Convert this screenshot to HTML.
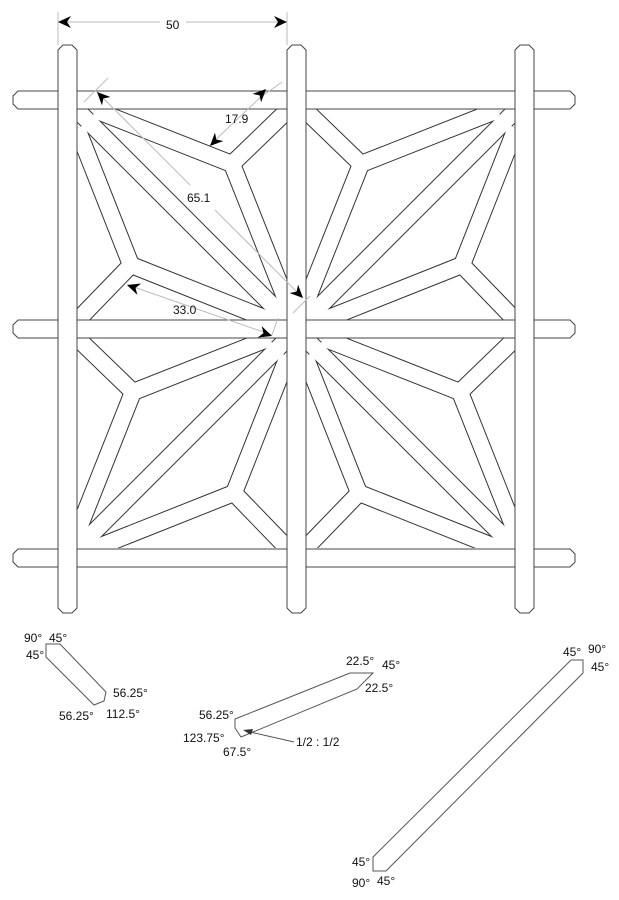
<!DOCTYPE html>
<html><head><meta charset="utf-8"><style>
html,body{margin:0;padding:0;background:#fff;}
svg{display:block;}
text{font-family:"Liberation Sans",sans-serif;font-size:12px;fill:#111;}
</style></head><body>
<svg width="619" height="900" viewBox="0 0 619 900" xmlns="http://www.w3.org/2000/svg">
<defs>
<clipPath id="cc"><rect x="77" y="109" width="211" height="211"/></clipPath>
<g id="cellb" stroke="#333" stroke-width="18" fill="none">
  <line x1="70" y1="103" x2="295" y2="328"/>
  <line x1="232" y1="164" x2="292" y2="106"/>
  <line x1="232" y1="164" x2="95" y2="110"/>
  <line x1="232" y1="164" x2="290" y2="310"/>
  <line x1="131" y1="265" x2="73" y2="325"/>
  <line x1="131" y1="265" x2="77" y2="128"/>
  <line x1="131" y1="265" x2="277" y2="323"/>
</g>
<g id="cellw" stroke="#fff" stroke-width="16" fill="none">
  <line x1="70" y1="103" x2="295" y2="328"/>
  <line x1="232" y1="164" x2="292" y2="106"/>
  <line x1="232" y1="164" x2="95" y2="110"/>
  <line x1="232" y1="164" x2="290" y2="310"/>
  <line x1="131" y1="265" x2="73" y2="325"/>
  <line x1="131" y1="265" x2="77" y2="128"/>
  <line x1="131" y1="265" x2="277" y2="323"/>
</g>
<g id="cell" clip-path="url(#cc)">
  <use href="#cellb"/><use href="#cellw"/>
</g>
<path id="hb" d="M18,0 H570 L575,5 V13 L570,18 H18 L13,13 V5 Z" fill="#fff" stroke="#444" stroke-width="1"/>
<path id="vb" d="M5,45 H14 L19,50 V608 L14,613 H5 L0,608 V50 Z" fill="#fff" stroke="#444" stroke-width="1"/>
<path id="ah" d="M0,0 L-13,-6 L-9,0 L-13,6 Z" fill="#000"/>
</defs>

<use href="#cell"/>
<use href="#cell" transform="translate(228,228)"/>
<use href="#cell" transform="translate(593,0) scale(-1,1)"/>
<use href="#cell" transform="translate(365,228) scale(-1,1)"/>

<use href="#hb" transform="translate(0,91)"/>
<use href="#hb" transform="translate(0,320)"/>
<use href="#hb" transform="translate(0,549)"/>
<use href="#vb" transform="translate(58,0)"/>
<use href="#vb" transform="translate(287,0)"/>
<use href="#vb" transform="translate(515,0)"/>

<g stroke="#bbb" stroke-width="1" fill="none">
  <line x1="58" y1="12" x2="58" y2="45"/>
  <line x1="287" y1="12" x2="287" y2="45"/>
  <line x1="58" y1="22" x2="160" y2="22"/>
  <line x1="186" y1="22" x2="287" y2="22"/>
  <line x1="97" y1="92" x2="190" y2="185"/>
  <line x1="215" y1="210" x2="303" y2="298"/>
  <line x1="84" y1="102" x2="108" y2="78"/>
  <line x1="293" y1="313" x2="310" y2="296"/>
  <line x1="266" y1="92" x2="210" y2="145"/>
  <line x1="258" y1="99" x2="282" y2="82"/>
  <line x1="128" y1="285" x2="272" y2="335"/>
  <line x1="272" y1="335" x2="278" y2="318"/>
</g>
<use href="#ah" transform="translate(58,22) rotate(180)"/>
<use href="#ah" transform="translate(287,22)"/>
<use href="#ah" transform="translate(97,92) rotate(225)"/>
<use href="#ah" transform="translate(303,298) rotate(45)"/>
<use href="#ah" transform="translate(266,89) rotate(-45)"/>
<use href="#ah" transform="translate(210,146) rotate(135)"/>
<use href="#ah" transform="translate(127,285) rotate(199)"/>
<use href="#ah" transform="translate(272,336) rotate(19)"/>
<text x="166" y="29">50</text>
<text x="225" y="123">17.9</text>
<text x="187" y="202">65.1</text>
<text x="173" y="314">33.0</text>

<g fill="#fff" stroke="#555" stroke-width="1">
  <polygon points="46,644 60,644 106,692 104,701 94,705 46,657"/>
  <polygon points="235,719 350,673 373,673 357,689 241,737 235,728"/>
  <polygon points="571,660 583,660 583,673 386,871 373,871 373,857"/>
</g>
<line x1="294" y1="742" x2="250" y2="732" stroke="#555" stroke-width="1"/>
<path d="M243,730 L253,729 L251,735 Z" fill="#333"/>

<text x="24" y="642">90°</text>
<text x="49" y="642">45°</text>
<text x="26" y="659">45°</text>
<text x="113" y="697">56.25°</text>
<text x="59" y="720">56.25°</text>
<text x="106" y="718">112.5°</text>
<text x="199" y="719">56.25°</text>
<text x="183" y="742">123.75°</text>
<text x="223" y="756">67.5°</text>
<text x="296" y="746">1/2 : 1/2</text>
<text x="346" y="665">22.5°</text>
<text x="382" y="669">45°</text>
<text x="365" y="692">22.5°</text>
<text x="563" y="656">45°</text>
<text x="588" y="653">90°</text>
<text x="591" y="671">45°</text>
<text x="352" y="866">45°</text>
<text x="352" y="887">90°</text>
<text x="377" y="885">45°</text>
</svg>
</body></html>
